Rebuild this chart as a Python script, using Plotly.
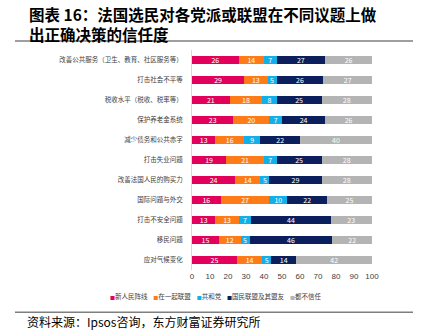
import plotly.graph_objects as go

categories = [
    "改善公共服务（卫生、教育、社区服务等）",
    "打击社会不平等",
    "税收水平（税收、税率等）",
    "保护养老金系统",
    "减少债务和公共赤字",
    "打击失业问题",
    "改善法国人民的购买力",
    "国际问题与外交",
    "打击不安全问题",
    "移民问题",
    "应对气候变化",
]
series_names = ["新人民阵线", "在一起联盟", "共和党", "国民联盟及其盟友", "都不信任"]
nfp = [26, 29, 21, 23, 13, 19, 24, 16, 13, 15, 25]
ensemble = [14, 13, 18, 20, 16, 21, 14, 27, 13, 12, 14]
lr = [7, 5, 8, 7, 9, 7, 5, 10, 7, 5, 5]
rn = [27, 26, 25, 24, 22, 25, 29, 22, 44, 46, 14]
none_ = [26, 27, 28, 26, 40, 28, 28, 25, 23, 22, 42]
series_values = [nfp, ensemble, lr, rn, none_]
colors = ["#E3005B", "#FF7B17", "#12B0EA", "#0B1F5C", "#B4B4B4"]
x_ticks = list(range(0, 101, 10))

W, H = 422, 333
L, R, T, B = 192, 372, 49.5, 270.5

def px(x):
    return (x - L) / (R - L)

def py(y):
    return (B - y) / (B - T)

FONT = "Noto Sans CJK SC"

fig = go.Figure()
for name, vals, c in zip(series_names, series_values, colors):
    fig.add_trace(go.Bar(
        y=categories, x=vals, name=name, orientation="h",
        marker=dict(color=c, line=dict(width=0)),
        text=vals, textposition="inside", insidetextanchor="middle",
        textfont=dict(color="white", size=7, family=FONT),
        textangle=0, constraintext="none",
        showlegend=False,
    ))

legend_text = "&nbsp;&nbsp;&nbsp;&nbsp;".join(
    f"<span style='color:{c};font-size:5px'>■</span>{n}" for n, c in zip(series_names, colors)
)

annotations = [
    dict(text="图表 16：法国选民对各党派或联盟在不同议题上做<br>出正确决策的信任度",
         x=px(27), y=py(0.5), align="left",
         xref="paper", yref="paper", xanchor="left", yanchor="top", showarrow=False,
         font=dict(family=FONT, size=15.5, color="#000000", weight="bold")),
    dict(text=legend_text, x=px(215), y=py(297),
         xref="paper", yref="paper", xanchor="center", yanchor="middle", showarrow=False,
         font=dict(family=FONT, size=6.5, color="#404040")),
    dict(text="资料来源：Ipsos咨询，东方财富证券研究所", x=px(25), y=py(322),
         xref="paper", yref="paper", xanchor="left", yanchor="middle", showarrow=False,
         font=dict(family=FONT, size=12, color="#000000")),
]

shapes = [
    dict(type="line", xref="paper", yref="paper", x0=px(15), x1=px(413), y0=py(40.5), y1=py(40.5),
         line=dict(color="#7F7F7F", width=1.5)),
    dict(type="line", xref="paper", yref="paper", x0=px(15), x1=px(413), y0=py(313), y1=py(313),
         line=dict(color="#7F7F7F", width=1.5)),
]

fig.update_layout(
    width=W, height=H, barmode="stack", bargap=0.62,
    margin=dict(l=L, r=W - R, t=T, b=H - B, pad=0),
    paper_bgcolor="white", plot_bgcolor="white",
    font=dict(family=FONT, size=8, color="#404040"),
    annotations=annotations, shapes=shapes,
    uniformtext=dict(minsize=6, mode="show"),
)
fig.update_xaxes(range=[0, 100], tickvals=x_ticks, ticktext=[str(v) for v in x_ticks],
                 showgrid=False, zeroline=False, showline=False,
                 tickfont=dict(size=8, color="#404040", family="Liberation Sans"), fixedrange=True)
fig.update_yaxes(autorange="reversed", showgrid=False, zeroline=False,
                 showline=True, linecolor="#D9D9D9", linewidth=1,
                 ticks="", ticklabelstandoff=7,
                 tickfont=dict(size=6.5, color="#404040", family=FONT))

fig.write_html("out.html")
